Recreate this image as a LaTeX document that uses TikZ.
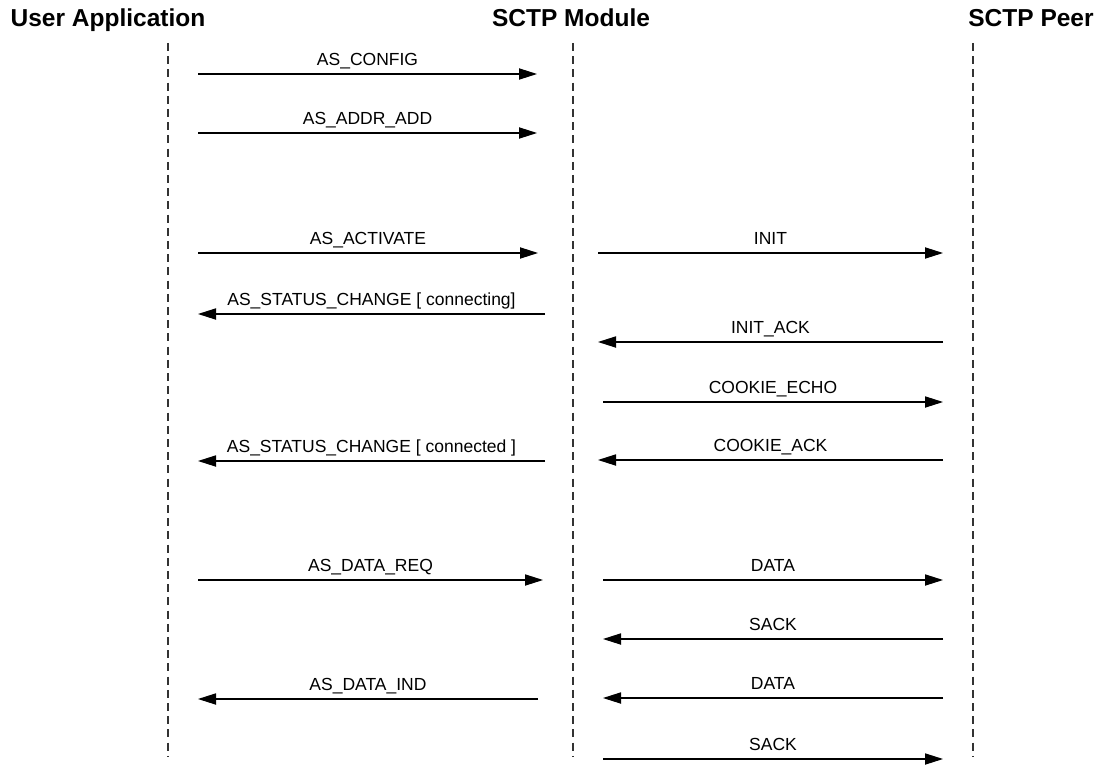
\documentclass[tikz,border=0pt]{standalone}
\usepackage{fontspec}
\setmainfont{Liberation Sans}
\usetikzlibrary{arrows.meta}
\begin{document}
\begin{tikzpicture}[x=0.5pt,y=-0.5pt,
  header/.style={font=\fontsize{12.25}{14}\selectfont\bfseries, inner sep=0pt, anchor=base},
  lifeline/.style={line width=0.6pt, dash pattern=on 4pt off 2.6pt, draw=black!80},
  msg/.style={line width=0.55pt, -{Triangle[length=9pt,width=5.6pt]}},
  lbl/.style={font=\fontsize{8.75}{10}\selectfont, inner sep=0pt, anchor=base, yshift=4.4pt}]
\useasboundingbox (0,0) rectangle (1103,765);

% participants
\node[header] (app)  at (108,27)  {User Application};
\node[header] (mod)  at (571,27)  {SCTP Module};
\node[header] (peer) at (1031,27) {SCTP Peer};

% lifelines
\coordinate (appTop)  at (168,43);  \coordinate (appBot)  at (168,757);
\coordinate (modTop)  at (573,43);  \coordinate (modBot)  at (573,757);
\coordinate (peerTop) at (973,43);  \coordinate (peerBot) at (973,757);
\draw[lifeline] (appTop) -- (appBot);
\draw[lifeline] (modTop) -- (modBot);
\draw[lifeline] (peerTop) -- (peerBot);

% messages: id / start x / end x / y / label
\foreach \n/\xa/\xb/\yy/\t in {
  1/198/537/74/{AS\_CONFIG},
  2/198/537/133/{AS\_ADDR\_ADD},
  3/198/538/253/{AS\_ACTIVATE},
  4/598/943/253/{INIT},
  5/545/198/314/{AS\_STATUS\_CHANGE [ connecting]},
  6/943/598/342/{INIT\_ACK},
  7/603/943/402/{COOKIE\_ECHO},
  8/545/198/461/{AS\_STATUS\_CHANGE [ connected ]},
  9/943/598/460/{COOKIE\_ACK},
  10/198/543/580/{AS\_DATA\_REQ},
  11/603/943/580/{DATA},
  12/943/603/639/{SACK},
  13/538/198/699/{AS\_DATA\_IND},
  14/943/603/698/{DATA},
  15/603/943/759/{SACK}} {
  \coordinate (m\n s) at (\xa,\yy);
  \coordinate (m\n e) at (\xb,\yy);
  \draw[msg] (m\n s) -- node[lbl] {\t} (m\n e);
}
\end{tikzpicture}
\end{document}
